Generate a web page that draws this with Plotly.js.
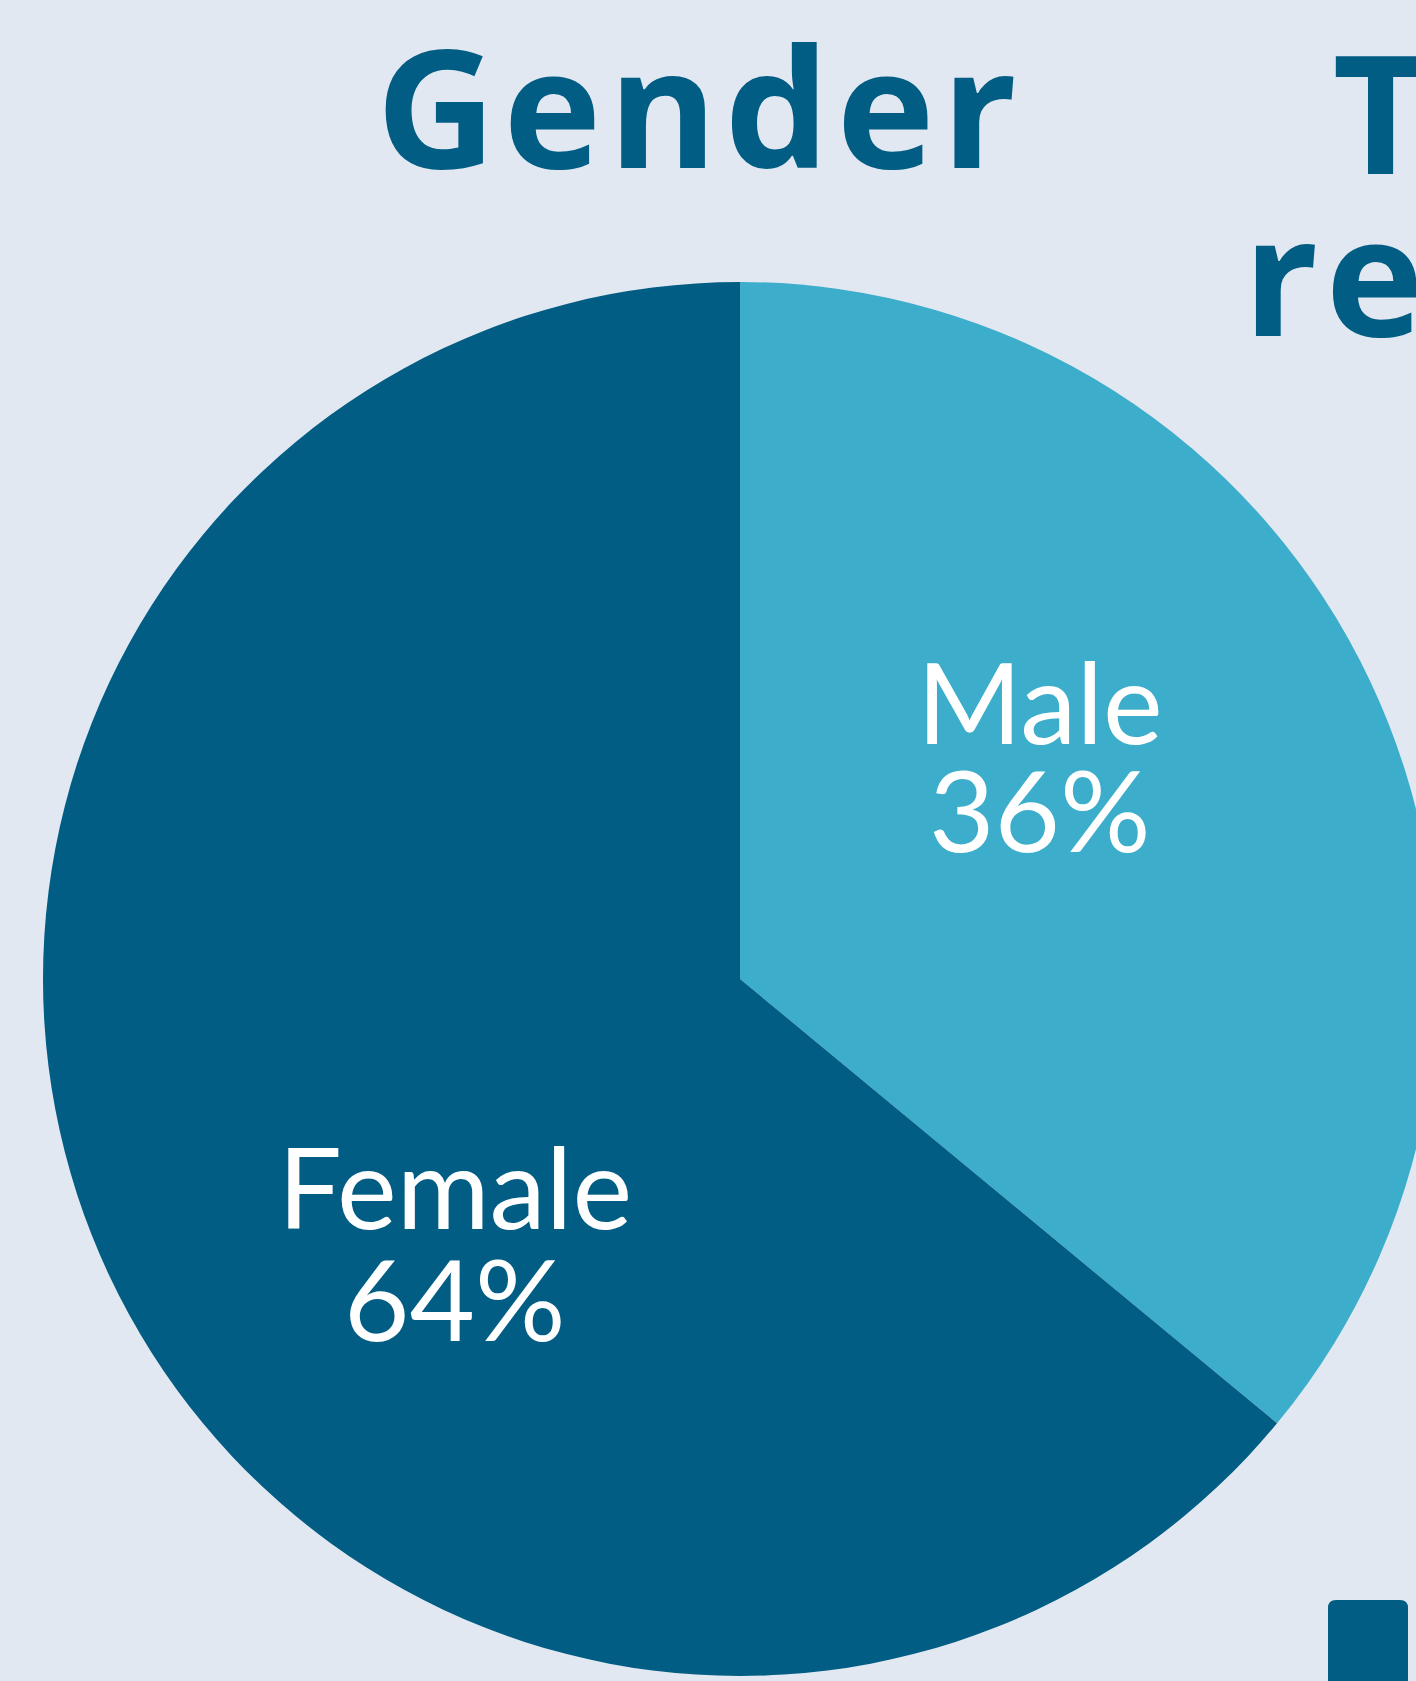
<!DOCTYPE html>
<html>
<head>
<meta charset="utf-8">
<script src="https://cdn.plot.ly/plotly-3.0.1.min.js"></script>
<style>
html,body{margin:0;padding:0;overflow:hidden;background:#e1e8f1;}
#chart{width:1500px;height:1681px;}
.gtitle{letter-spacing:7px;}
g.annotation[data-index="4"] text, g.annotation[data-index="5"] text{letter-spacing:7px;}
</style>
</head>
<body>
<div id="chart"></div>
<script>
var labels = ['Male', 'Female'];
var values = [36, 64];
var colors = ['#3cadca', '#025d84'];
var sideTitleLines = ['T', 're'];

var W = 1500, H = 1681;
function px(x){return x / W;}
function py(y){return 1 - y / H;}

var cx = 740, cy = 979, r = 697;

var trace = {
  type: 'pie',
  labels: labels,
  values: values,
  sort: false,
  direction: 'clockwise',
  rotation: 0,
  textinfo: 'none',
  hoverinfo: 'label+percent',
  marker: {colors: colors, line: {width: 0}},
  domain: {x: [px(cx - r), px(cx + r)], y: [py(cy + r), py(cy - r)]},
  showlegend: false
};

var labelFont = {family: 'Lato, sans-serif', size: 113, color: '#ffffff'};
var labelPos = [
  {x: 1040, y1: 700, y2: 808},
  {x: 455, y1: 1185, y2: 1297}
];
var annotations = [];
for (var i = 0; i < labels.length; i++) {
  annotations.push({xref:'paper', yref:'paper', x: px(labelPos[i].x), y: py(labelPos[i].y1),
    xanchor:'center', yanchor:'middle', text: labels[i], showarrow:false, font: labelFont});
  annotations.push({xref:'paper', yref:'paper', x: px(labelPos[i].x), y: py(labelPos[i].y2),
    xanchor:'center', yanchor:'middle', text: values[i] + '%', showarrow:false, font: labelFont});
}
var titleFont = {family: '"Open Sans", sans-serif', size: 166, color: '#025d84', weight: 700};
var sideX = [1334, 1248];
var sideY = [110, 272];
for (var j = 0; j < sideTitleLines.length; j++) {
  annotations.push({xref:'paper', yref:'paper', x: px(sideX[j]), y: py(sideY[j]),
    xanchor:'left', yanchor:'middle', text: sideTitleLines[j], showarrow:false, font: titleFont});
}

var sx0 = px(1328), sx1 = px(1408), sy0 = py(1720), sy1 = py(1600);
var rx = 8 / W, ry = 8 / H;
var sqPath = 'M' + sx0 + ',' + (sy1 - ry) +
  ' Q' + sx0 + ',' + sy1 + ' ' + (sx0 + rx) + ',' + sy1 +
  ' L' + (sx1 - rx) + ',' + sy1 +
  ' Q' + sx1 + ',' + sy1 + ' ' + sx1 + ',' + (sy1 - ry) +
  ' L' + sx1 + ',' + sy0 + ' L' + sx0 + ',' + sy0 + ' Z';

var layout = {
  width: W, height: H,
  margin: {l:0, r:0, t:0, b:0},
  paper_bgcolor: '#e1e8f1',
  plot_bgcolor: '#e1e8f1',
  title: {text: 'Gender', x: px(700), xanchor: 'center', y: py(110), yanchor: 'middle', font: titleFont},
  annotations: annotations,
  shapes: [{type:'path', xref:'paper', yref:'paper', path: sqPath,
    fillcolor:'#025d84', line:{width:0}}]
};

Plotly.newPlot('chart', [trace], layout, {displayModeBar:false, staticPlot:true});
</script>
</body>
</html>
